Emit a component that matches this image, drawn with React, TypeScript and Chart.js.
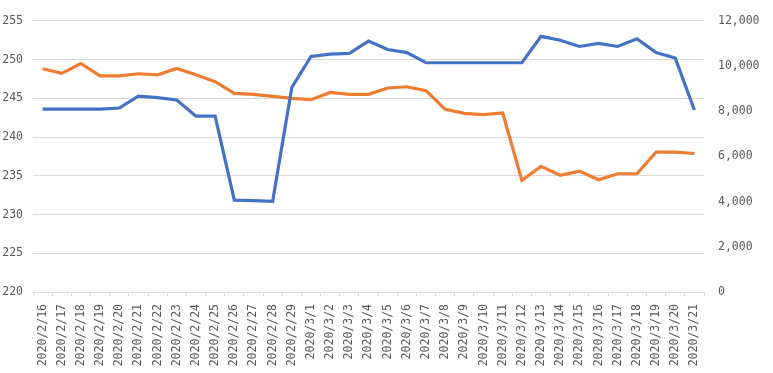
import React, { useEffect, useRef } from "react";
import { Chart, registerables } from "chart.js";

Chart.register(...registerables);

const categories = [
  "2020/2/16", "2020/2/17", "2020/2/18", "2020/2/19", "2020/2/20", "2020/2/21", "2020/2/22",
  "2020/2/23", "2020/2/24", "2020/2/25", "2020/2/26", "2020/2/27", "2020/2/28", "2020/2/29",
  "2020/3/1", "2020/3/2", "2020/3/3", "2020/3/4", "2020/3/5", "2020/3/6", "2020/3/7",
  "2020/3/8", "2020/3/9", "2020/3/10", "2020/3/11", "2020/3/12", "2020/3/13", "2020/3/14",
  "2020/3/15", "2020/3/16", "2020/3/17", "2020/3/18", "2020/3/19", "2020/3/20", "2020/3/21",
];

// blue series, left axis
const blueValues = [
  243.6, 243.6, 243.6, 243.6, 243.75, 245.3, 245.1, 244.8, 242.7, 242.7,
  231.85, 231.8, 231.7, 246.4, 250.4, 250.7, 250.8, 252.4, 251.3, 250.9,
  249.6, 249.6, 249.6, 249.6, 249.6, 249.6, 253.0, 252.5, 251.7, 252.1,
  251.7, 252.7, 250.9, 250.2, 243.5,
];

// orange series, right axis
const orangeValues = [
  9880, 9675, 10115, 9570, 9570, 9660, 9615, 9895, 9615, 9310,
  8790, 8750, 8660, 8570, 8515, 8835, 8750, 8750, 9030, 9085,
  8910, 8085, 7910, 7850, 7925, 4940, 5560, 5160, 5350, 4970,
  5235, 5235, 6190, 6190, 6130,
];

const leftTicks = [220, 225, 230, 235, 240, 245, 250, 255];
const rightTicks = [0, 2000, 4000, 6000, 8000, 10000, 12000];

const FONT = "'DejaVu Sans Mono', monospace";
const TEXT_COLOR = "#595959";
const GRID_COLOR = "#d9d9d9";

export default function App() {
  const ref = useRef<HTMLCanvasElement | null>(null);

  useEffect(() => {
    document.body.style.margin = "0";
    if (!ref.current) return;
    const chart = new Chart(ref.current, {
      type: "line",
      data: {
        labels: categories,
        datasets: [
          {
            data: blueValues,
            borderColor: "#4472C4",
            backgroundColor: "#4472C4",
            borderWidth: 3.2,
            pointRadius: 0,
            tension: 0,
            yAxisID: "y",
          },
          {
            data: orangeValues,
            borderColor: "#ED7D31",
            backgroundColor: "#ED7D31",
            borderWidth: 3.2,
            pointRadius: 0,
            tension: 0,
            yAxisID: "y1",
          },
        ],
      },
      options: {
        animation: false,
        responsive: true,
        maintainAspectRatio: false,
        layout: { padding: { top: 20, left: 0, right: 0, bottom: 0 } },
        plugins: { legend: { display: false }, tooltip: { enabled: false }, title: { display: false } },
        scales: {
          x: {
            type: "category",
            offset: true,
            grid: {
              display: true,
              drawOnChartArea: false,
              drawTicks: true,
              tickLength: 4,
              offset: true,
              color: GRID_COLOR,
            },
            border: { display: true, color: GRID_COLOR, width: 1 },
            ticks: {
              autoSkip: false,
              maxRotation: 90,
              minRotation: 90,
              padding: 8,
              color: TEXT_COLOR,
              font: { family: FONT, size: 11.5 },
            },
            afterFit: (s: any) => {
              s.height = 81;
            },
          },
          y: {
            type: "linear",
            position: "left",
            min: 220,
            max: 255,
            afterBuildTicks: (s: any) => {
              s.ticks = leftTicks.map((v) => ({ value: v }));
            },
            grid: { color: GRID_COLOR, drawTicks: false },
            border: { display: false },
            ticks: {
              padding: 10,
              color: TEXT_COLOR,
              font: { family: FONT, size: 11.5 },
            },
            afterFit: (s: any) => {
              s.width = 33;
            },
          },
          y1: {
            type: "linear",
            position: "right",
            min: 0,
            max: 12000,
            afterBuildTicks: (s: any) => {
              s.ticks = rightTicks.map((v) => ({ value: v }));
            },
            grid: { display: false, drawTicks: false },
            border: { display: false },
            ticks: {
              padding: 14,
              color: TEXT_COLOR,
              font: { family: FONT, size: 11.5 },
              callback: (v: any) => Number(v).toLocaleString("en-US"),
            },
            afterFit: (s: any) => {
              s.width = 69;
            },
          },
        },
      },
    });
    return () => chart.destroy();
  }, []);

  return (
    <div style={{ position: "relative", width: 773, height: 373 }}>
      <canvas ref={ref} />
    </div>
  );
}
